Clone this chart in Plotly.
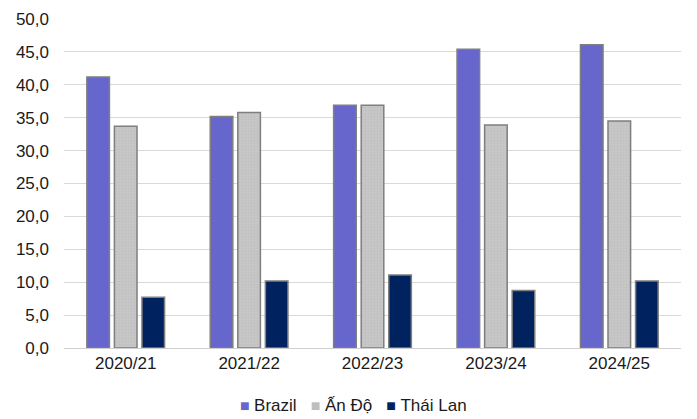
import plotly.graph_objects as go

# Niên vụ (crop years)
seasons = ["2020/21", "2021/22", "2022/23", "2023/24", "2024/25"]

# Sản lượng theo quốc gia
brazil = [41.2, 35.2, 36.9, 45.4, 46.1]
an_do = [33.7, 35.8, 36.9, 33.9, 34.5]
thai_lan = [7.7, 10.2, 11.1, 8.75, 10.2]

series_names = ["Brazil", "Ấn Độ", "Thái Lan"]
series_colors = ["#6666CC", "#C6C6C6", "#002360"]

y_ticks = [0, 5, 10, 15, 20, 25, 30, 35, 40, 45, 50]

outline = dict(color="#7F7F7F", width=1.5)

fig = go.Figure()
fig.add_trace(go.Bar(
    name=series_names[0], x=seasons, y=brazil,
    marker=dict(color=series_colors[0], line=outline),
))
fig.add_trace(go.Bar(
    name=series_names[1], x=seasons, y=an_do,
    marker=dict(color=series_colors[1], line=outline,
                pattern=dict(shape=".", fgcolor="#B4B4B4", bgcolor=series_colors[1],
                             size=3, solidity=0.2)),
))
fig.add_trace(go.Bar(
    name=series_names[2], x=seasons, y=thai_lan,
    marker=dict(color=series_colors[2], line=outline),
))

# Compact legend line: small coloured square followed by the series name
legend_swatch = ["#6666CC", "#BEBEBE", "#002360"]
legend_parts = [
    f"<span style='color:{c};font-size:16px'>■&nbsp;</span>{n}"
    for n, c in zip(series_names, legend_swatch)
]
legend_text = "&nbsp;&nbsp;&nbsp;".join(legend_parts)

fig.update_layout(
    width=697, height=419,
    margin=dict(l=64, r=16, t=19, b=71, autoexpand=False),
    paper_bgcolor="white", plot_bgcolor="white",
    barmode="group", bargap=0.33, bargroupgap=0.18,
    separators=",.",
    font=dict(family="Liberation Sans, Arial, sans-serif", size=17, color="#1a1a1a"),
    showlegend=False,
    annotations=[dict(text=legend_text, xref="paper", yref="paper",
                      x=0.47, y=-0.176, xanchor="center", yanchor="middle",
                      showarrow=False, font=dict(size=17, color="#1a1a1a"))],
    xaxis=dict(showgrid=False, showline=True, linecolor="#CFCFCF", linewidth=1,
               ticks="", tickfont=dict(size=17)),
    yaxis=dict(range=[0, 50], tickvals=y_ticks, tickformat=".1f",
               showgrid=True, gridcolor="#D9D9D9", gridwidth=1,
               zeroline=False, showline=False, ticks="",
               ticklabelstandoff=14, tickfont=dict(size=17)),
)

fig.write_html("out.html")
